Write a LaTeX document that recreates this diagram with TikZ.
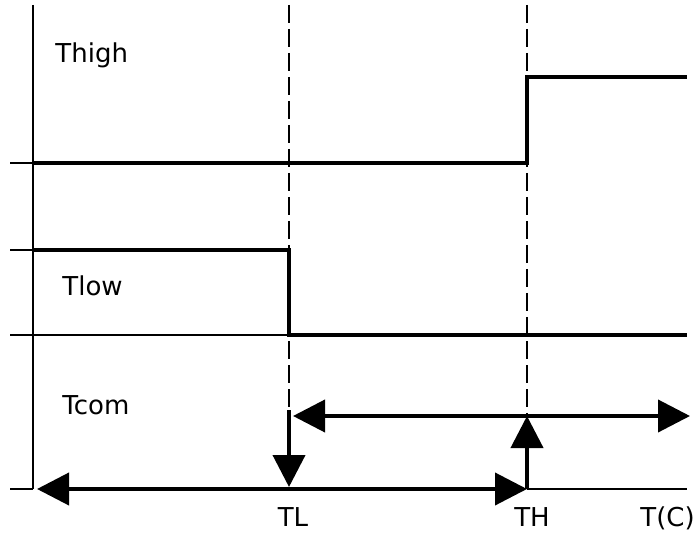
\documentclass[tikz,border=0pt]{standalone}
\usepackage{fontspec}
\setmainfont{DejaVu Sans}
\usetikzlibrary{arrows.meta}

\begin{document}
\begin{tikzpicture}[x=0.5pt, y=-0.5pt, >={Triangle[length=16pt,width=16pt]}, every node/.style={font=\fontsize{13}{15}\selectfont, inner sep=0pt}, axis/.style={line width=1pt}, level/.style={line width=2pt}, guide/.style={line width=1pt, dash pattern=on 9pt off 3pt}, arr/.style={line width=2pt}]
\useasboundingbox (0,0) rectangle (699,533);
% axis and guide points
\coordinate (ytop) at (33,5);
\coordinate (orig) at (33,489);
\coordinate (tltop) at (289,5);
\coordinate (thtop) at (527,5);
\coordinate (tlend) at (289,410);
\coordinate (thend) at (527,416);
% Thigh curve
\coordinate (hiA) at (33,163);
\coordinate (hiB) at (527,163);
\coordinate (hiC) at (527,77);
\coordinate (hiD) at (687,77);
% Tlow curve
\coordinate (loA) at (33,250);
\coordinate (loB) at (289,250);
\coordinate (loC) at (289,335);
\coordinate (loD) at (687,335);
% Tcom arrows
\coordinate (upL) at (293,416);
\coordinate (upR) at (690,416);
\coordinate (dnL) at (37,489);
\coordinate (dnR) at (527,489);
\coordinate (tlS) at (289,410);
\coordinate (tlE) at (289,487);
\coordinate (tcend) at (687,489);
% labels
\node[anchor=base west] (thigh) at (55,63) {Thigh};
\node[anchor=base west] (tlow) at (62,296) {Tlow};
\node[anchor=base west] (tcom) at (62,414) {Tcom};
\node[anchor=base] (tl) at (293,526) {TL};
\node[anchor=base] (th) at (532,526) {TH};
\node[anchor=base west] (tc) at (640,526) {T(C)};
% guides
\draw[guide] (tltop)--(tlend);
\draw[guide] (thtop)--(thend);
% axes and ticks
\draw[axis] (ytop)--(orig);
\draw[axis] (10,163)--(hiA);
\draw[axis] (10,250)--(loA);
\draw[axis] (10,335)--(loC);
\draw[axis] (10,489)--(orig);
\draw[axis] (dnR)--(tcend);
% levels
\draw[level] (hiA)--(hiB)--(hiC)--(hiD);
\draw[level] (loA)--(loB)--(loC)--(loD);
% Tcom arrows
\draw[arr,<->] (upL)--(upR);
\draw[arr,<->] (dnL)--(dnR);
\draw[arr,->] (tlS)--(tlE);
\draw[arr,->] (dnR)--(thend);
\end{tikzpicture}
\end{document}
